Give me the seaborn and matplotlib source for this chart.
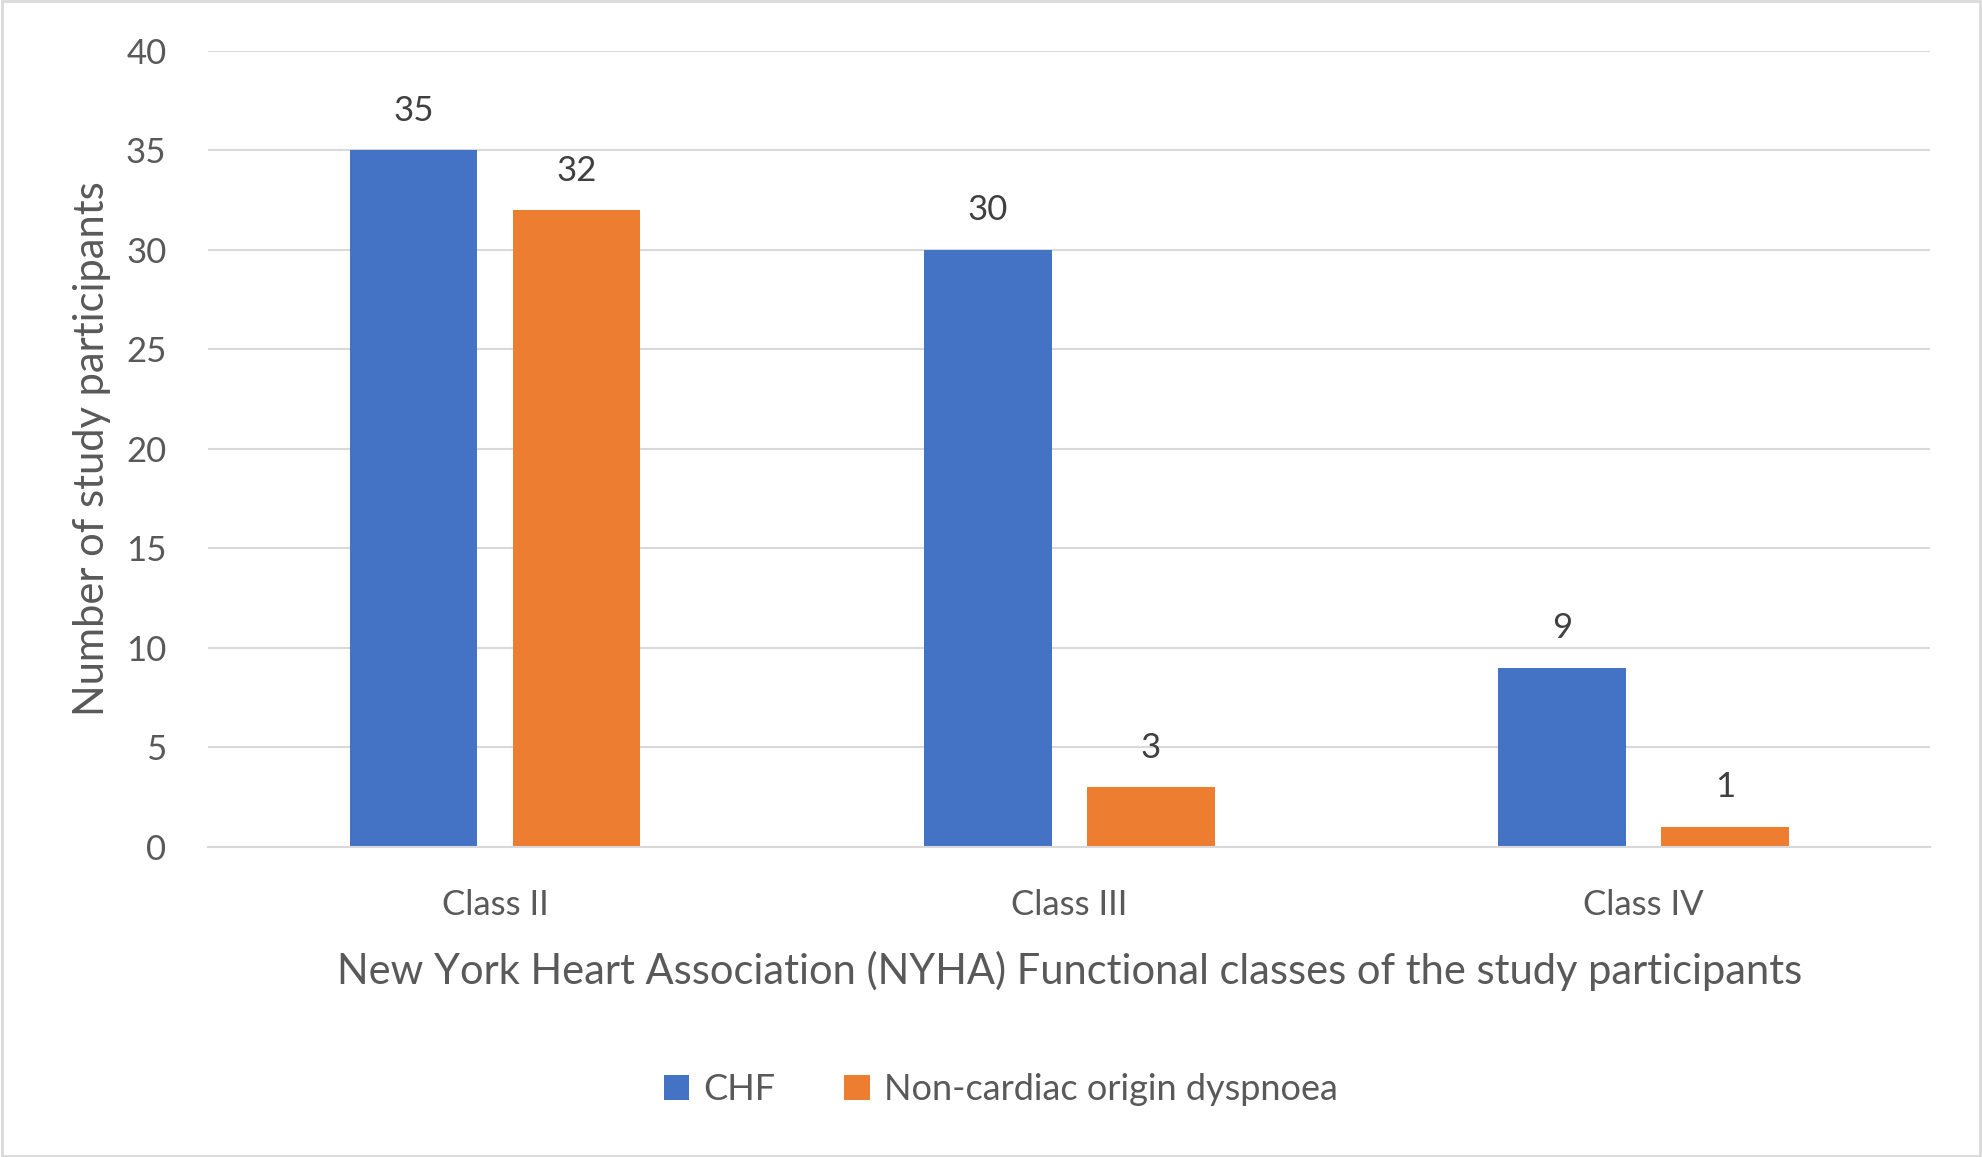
import matplotlib
matplotlib.use("Agg")
import matplotlib.pyplot as plt
import seaborn as sns
import pandas as pd
from matplotlib.patches import Rectangle

classes = ["Class II", "Class III", "Class IV"]
chf = [35, 30, 9]
noncardiac = [32, 3, 1]
series_names = ["CHF", "Non-cardiac origin dyspnoea"]
colors = ["#4472C4", "#ED7D31"]

df = pd.DataFrame({
    "cls": classes * 2,
    "val": chf + noncardiac,
    "series": [series_names[0]] * 3 + [series_names[1]] * 3,
})

sns.set_theme(style="white")
plt.rcParams['font.family'] = ['Lato', 'DejaVu Sans']
text_color = "#595959"

fig = plt.figure(figsize=(19.82, 11.57), dpi=100)
ax = fig.add_axes([0.105, 0.268, 0.869, 0.688])

sns.barplot(data=df, x="cls", y="val", hue="series", order=classes,
            hue_order=series_names, palette=colors, width=0.568, gap=0.218,
            ax=ax, saturation=1, legend=True, edgecolor="none")

for cont in ax.containers:
    ax.bar_label(cont, labels=[f"{int(v)}" for v in cont.datavalues],
                 padding=17, fontsize=25, color="#404040")

ax.set_ylim(0, 40)
ax.set_xlim(-0.5, 2.5)
ax.set_yticks(range(0, 41, 5))
ax.yaxis.grid(True, color="#D9D9D9", linewidth=1.5)
ax.set_axisbelow(True)
for s in ["top", "right", "left"]:
    ax.spines[s].set_visible(False)
ax.spines["bottom"].set_color("#D9D9D9")
ax.spines["bottom"].set_linewidth(1.5)

ax.tick_params(axis="y", length=0, labelsize=25, labelcolor=text_color, pad=30)
ax.tick_params(axis="x", which="major", length=0, labelsize=25, labelcolor=text_color, pad=30)
ax.set_xticks([-0.5, 0.5, 1.5, 2.5], minor=True)
ax.tick_params(axis="x", which="minor", length=12, width=1.5, color="#D9D9D9")

ax.set_xlabel("New York Heart Association (NYHA) Functional classes of the study participants",
              fontsize=30, color=text_color, labelpad=22)
ax.set_ylabel("Number of study participants", fontsize=30, color=text_color, labelpad=11)

leg = ax.legend(loc="center", bbox_to_anchor=(0.505, 0.058), bbox_transform=fig.transFigure,
                ncol=2, frameon=False, fontsize=26, handlelength=0.7, handleheight=0.7,
                columnspacing=1.9, handletextpad=0.4)
for t in leg.get_texts():
    t.set_color(text_color)

fig.patches.append(Rectangle((0.001, 0.001), 0.998, 0.998, transform=fig.transFigure,
                             fill=False, edgecolor="#D9D9D9", linewidth=2))

fig.savefig("out.png", dpi=100, facecolor="white")
